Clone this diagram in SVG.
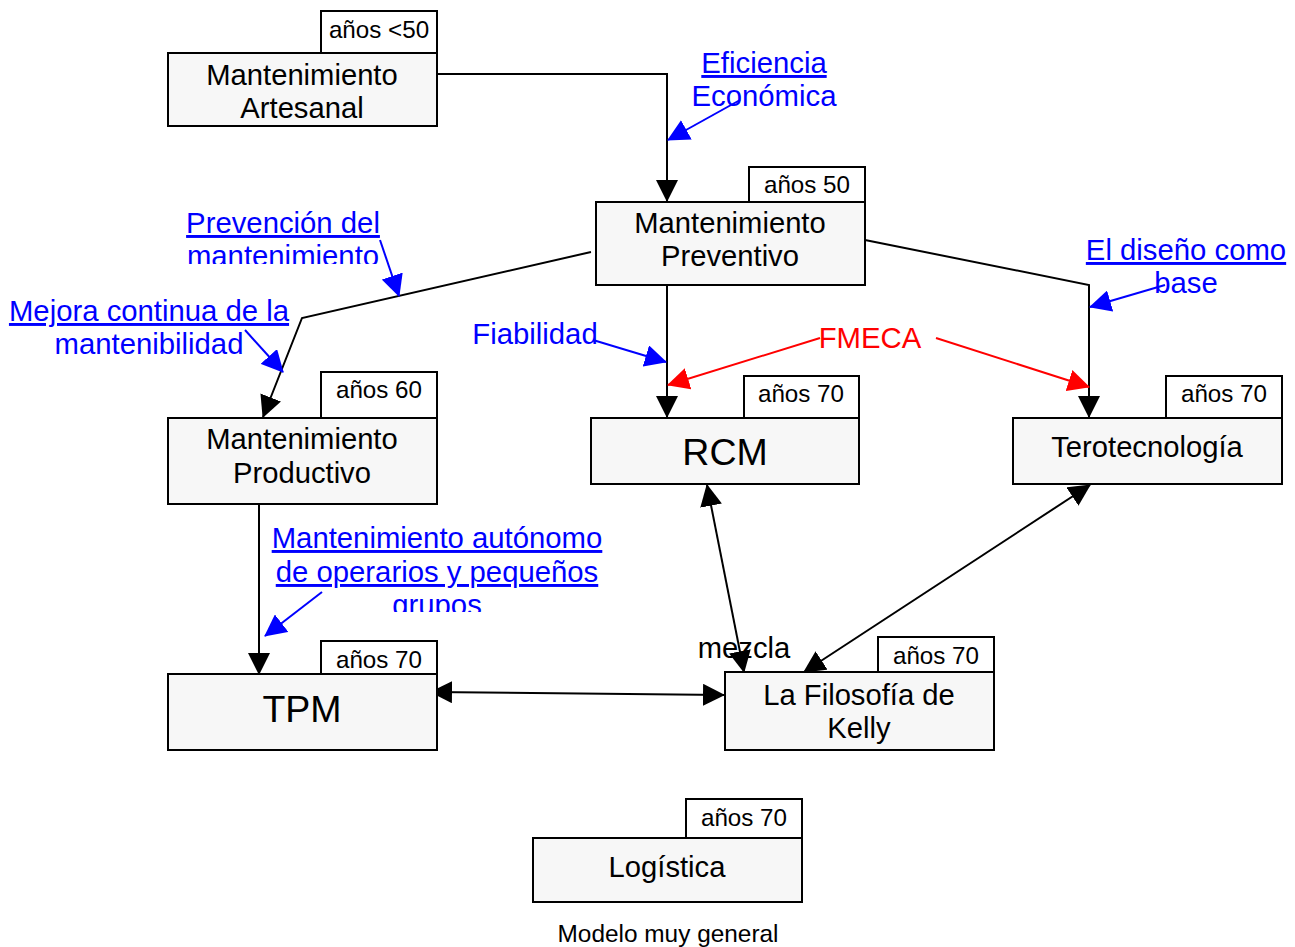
<svg xmlns="http://www.w3.org/2000/svg" width="1295" height="947" viewBox="0 0 1295 947">
<style>
.box{fill:#f7f7f7;stroke:#000;stroke-width:2}
.tag{fill:#fff;stroke:#000;stroke-width:2}
.t{font-family:"Liberation Sans",Arial,sans-serif;font-size:29.2px;fill:#000;text-anchor:middle}
.big{font-size:37.5px}
.tg{font-family:"Liberation Sans",Arial,sans-serif;font-size:24.2px;fill:#000;text-anchor:middle}
.lb{font-family:"Liberation Sans",Arial,sans-serif;font-size:29.3px;fill:#0000ff;text-anchor:middle}
.u{text-decoration:underline}
.red{fill:#ff0000}
.c{fill:none;stroke:#000;stroke-width:2}
.cb{fill:none;stroke:#0000ff;stroke-width:2}
.cr{fill:none;stroke:#ff0000;stroke-width:2}
</style>
<defs>
<marker id="ak" markerUnits="userSpaceOnUse" markerWidth="22" markerHeight="22" refX="21" refY="11" orient="auto-start-reverse" viewBox="0 0 22 22"><path d="M0,0 L22,11 L0,22 z" fill="#000"/></marker>
<marker id="ab" markerUnits="userSpaceOnUse" markerWidth="22" markerHeight="22" refX="21" refY="11" orient="auto" viewBox="0 0 22 22"><path d="M0,0 L22,11 L0,22 z" fill="#0000ff"/></marker>
<marker id="ar" markerUnits="userSpaceOnUse" markerWidth="22" markerHeight="22" refX="21" refY="11" orient="auto" viewBox="0 0 22 22"><path d="M0,0 L22,11 L0,22 z" fill="#ff0000"/></marker>
<clipPath id="cl1"><rect x="150" y="200" width="260" height="64"/></clipPath>
<clipPath id="cl2"><rect x="0" y="290" width="300" height="64"/></clipPath>
<clipPath id="cl3"><rect x="250" y="515" width="380" height="97"/></clipPath>
<clipPath id="cl4"><rect x="460" y="315" width="150" height="31"/></clipPath>
</defs>

<g id="connectors">
<path class="c" d="M437,74 L667,74 L667,201" marker-end="url(#ak)"/>
<path class="c" d="M591,252 L302,318 L263,417" marker-end="url(#ak)"/>
<path class="c" d="M667,285 L667,417" marker-end="url(#ak)"/>
<path class="c" d="M865,240 L1089,285 L1089,417" marker-end="url(#ak)"/>
<path class="c" d="M259,504 L259,674" marker-end="url(#ak)"/>
<path class="c" d="M431,692 L724,695" marker-start="url(#ak)" marker-end="url(#ak)"/>
<path class="c" d="M707,485 L744,672" marker-start="url(#ak)" marker-end="url(#ak)"/>
<path class="c" d="M1090,485 L804,672" marker-start="url(#ak)" marker-end="url(#ak)"/>
<path class="cb" d="M740,100 L668,140" marker-end="url(#ab)"/>
<path class="cb" d="M380,240 L399,296" marker-end="url(#ab)"/>
<path class="cb" d="M245,330 L283,372" marker-end="url(#ab)"/>
<path class="cb" d="M593,340 L666,362" marker-end="url(#ab)"/>
<path class="cb" d="M1165,285 L1090,307" marker-end="url(#ab)"/>
<path class="cb" d="M322,592 L265,636" marker-end="url(#ab)"/>
<path class="cr" d="M820,338 L668,385" marker-end="url(#ar)"/>
<path class="cr" d="M936,338 L1089,387" marker-end="url(#ar)"/>
</g>

<g id="artesanal">
<rect class="tag" x="321" y="11" width="116" height="42"/>
<text class="tg" x="379" y="38">años &lt;50</text>
<rect class="box" x="168" y="53" width="269" height="73"/>
<text class="t" x="302" y="85">Mantenimiento</text>
<text class="t" x="302" y="118">Artesanal</text>
</g>

<g id="preventivo">
<rect class="tag" x="749" y="167" width="116" height="35"/>
<text class="tg" x="807" y="193">años 50</text>
<rect class="box" x="596" y="202" width="269" height="83"/>
<text class="t" x="730" y="233">Mantenimiento</text>
<text class="t" x="730" y="266">Preventivo</text>
</g>

<g id="productivo">
<rect class="tag" x="321" y="372" width="116" height="46"/>
<text class="tg" x="379" y="398">años 60</text>
<rect class="box" x="168" y="418" width="269" height="86"/>
<text class="t" x="302" y="449">Mantenimiento</text>
<text class="t" x="302" y="483">Productivo</text>
</g>

<g id="rcm">
<rect class="tag" x="744" y="376" width="115" height="42"/>
<text class="tg" x="801" y="402">años 70</text>
<rect class="box" x="591" y="418" width="268" height="66"/>
<text class="t big" x="725" y="465">RCM</text>
</g>

<g id="terotecnologia">
<rect class="tag" x="1166" y="376" width="116" height="42"/>
<text class="tg" x="1224" y="402">años 70</text>
<rect class="box" x="1013" y="418" width="269" height="66"/>
<text class="t" x="1147" y="457">Terotecnología</text>
</g>

<g id="tpm">
<rect class="tag" x="321" y="641" width="116" height="33"/>
<text class="tg" x="379" y="668">años 70</text>
<rect class="box" x="168" y="674" width="269" height="76"/>
<text class="t big" x="302" y="722">TPM</text>
</g>

<g id="kelly">
<rect class="tag" x="878" y="637" width="116" height="35"/>
<text class="tg" x="936" y="664">años 70</text>
<rect class="box" x="725" y="672" width="269" height="78"/>
<text class="t" x="859" y="705">La Filosofía de</text>
<text class="t" x="859" y="738">Kelly</text>
</g>

<g id="logistica">
<rect class="tag" x="686" y="799" width="116" height="39"/>
<text class="tg" x="744" y="826">años 70</text>
<rect class="box" x="533" y="838" width="269" height="64"/>
<text class="t" x="667" y="877">Logística</text>
</g>

<g id="labels">
<text class="lb" x="764" y="73"><tspan class="u">Eficiencia</tspan></text>
<text class="lb" x="764" y="106">Económica</text>
<g clip-path="url(#cl1)">
<text class="lb" x="283" y="233"><tspan class="u">Prevención del</tspan></text>
<text class="lb" x="283" y="266">mantenimiento</text>
</g>
<g clip-path="url(#cl2)">
<text class="lb" x="149" y="321"><tspan class="u">Mejora continua de la</tspan></text>
<text class="lb" x="149" y="354">mantenibilidad</text>
</g>
<g clip-path="url(#cl4)">
<text class="lb" x="535" y="344">Fiabilidad</text>
</g>
<text class="lb red" x="870" y="348">FMECA</text>
<text class="lb" x="1186" y="260"><tspan class="u">El diseño como</tspan></text>
<text class="lb" x="1186" y="293">base</text>
<g clip-path="url(#cl3)">
<text class="lb" x="437" y="548"><tspan class="u">Mantenimiento autónomo</tspan></text>
<text class="lb" x="437" y="582"><tspan class="u">de operarios y pequeños</tspan></text>
<text class="lb" x="437" y="615">grupos</text>
</g>
<text class="t" x="744" y="658">mezcla</text>
<text class="t" x="668" y="942" style="font-size:24.4px">Modelo muy general</text>
</g>
</svg>
